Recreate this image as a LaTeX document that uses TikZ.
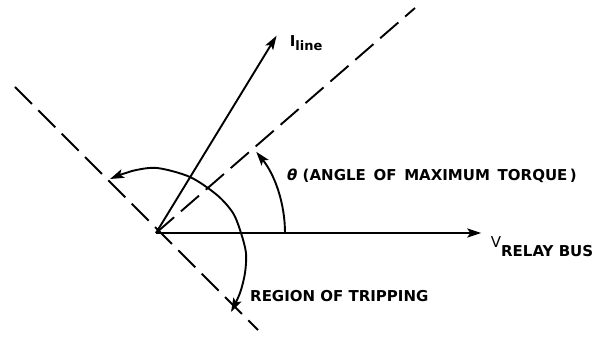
\documentclass[tikz,border=0pt]{standalone}
\usepackage{fontspec}
\setmainfont{DejaVu Sans}
\usetikzlibrary{arrows.meta, positioning}

\begin{document}
\begin{tikzpicture}[
        x=1pt, y=1pt,
        font=\fontsize{15}{17}\selectfont\bfseries,
        ar/.style={-{Stealth[length=14pt, width=9pt, inset=3pt]}, line width=1.9pt},
        dbl/.style={{Stealth[length=14pt, width=9pt, inset=3pt]}-{Stealth[length=14pt, width=9pt, inset=3pt]}, line width=1.9pt},
        ref/.style={line width=1.9pt, dash pattern=on 24pt off 9pt}
    ]
        \useasboundingbox (-156,-114) rectangle (451,233);

        \coordinate (O)    at (0,0);
        \coordinate (mt)   at (259,225);
        \coordinate (bup)  at (-141,146);
        \coordinate (bdn)  at (102,-97);
        \node[inner sep=0pt] (I) at (121,198) {};
        \node[inner sep=0pt] (V) at (326,0) {};

        % reference lines
        \draw[ref] (O) -- (mt);
        \draw[ref] (bup) -- (bdn);

        % phasors
        \foreach \t in {I, V}{\draw[ar] (O) -- (\t);}
        \node[right=12pt of I, yshift=-8pt, inner sep=0pt] (ilab) {I\raisebox{-4pt}{\fontsize{13}{14}\selectfont line}};
        \node[right=8pt of V, yshift=-14pt, inner sep=0pt] (vlab) {\raisebox{9pt}{\mdseries V}RELAY BUS};

        % angles
        \draw[ar] (129,0) arc[start angle=0, end angle=39, radius=129];
        \node[anchor=west, inner sep=0pt] (theta) at (131,57) {\textit{θ} (ANGLE\, OF\, MAXIMUM\, TORQUE\,)};

        \draw[dbl] plot[smooth] coordinates {(-46,54) (-24,62) (1,65) (34,56) (61,38) (77,20) (85,0) (90,-20) (89,-40) (84,-60) (75,-79)};
        \node[anchor=west, inner sep=0pt] (trip) at (94,-63) {REGION OF TRIPPING};
    \end{tikzpicture}
\end{document}
